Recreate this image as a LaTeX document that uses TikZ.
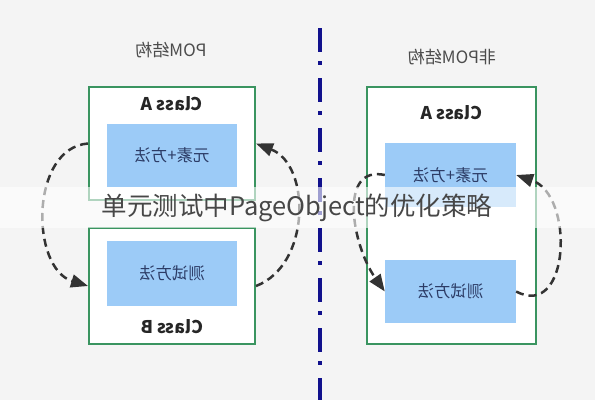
\documentclass[tikz,border=0pt]{standalone}
\usepackage{fontspec}
\setmainfont{Noto Sans CJK SC}
\usetikzlibrary{arrows.meta}
\definecolor{bgc}{HTML}{F4F4F4}
\definecolor{grn}{HTML}{3A9460}
\definecolor{blu}{HTML}{9CCBF7}
\definecolor{btxt}{HTML}{2C3C66}
\definecolor{arr}{HTML}{333333}
\definecolor{navy}{HTML}{10108C}
\newcommand{\mir}[1]{\scalebox{-1}[1]{#1}}
\tikzset{
  classbox/.style={draw=grn, line width=2pt, fill=white, inner sep=0pt},
  method/.style={fill=blu, inner sep=0pt, text=btxt, font=\fontsize{16.5}{16.5}\selectfont},
  clabel/.style={font=\bfseries\fontsize{17.5}{17.5}\selectfont, text=black!85},
  title/.style={font=\fontsize{17}{17}\selectfont, text=black!70},
  flow/.style={draw=arr, line width=2.5pt, dash pattern=on 8pt off 5pt, -{Triangle[length=17pt,width=13pt]}},
}
\begin{document}
\begin{tikzpicture}[x=1pt,y=-1pt]
\fill[bgc] (0,0) rectangle (595,400);
\useasboundingbox (0,0) rectangle (595,400);
% left side
\node[title] (t1) at (171,50) {\mir{POM结构}};
\node[classbox, minimum width=166pt, minimum height=113pt] (la) at (172,143.5) {};
\node[classbox, minimum width=166pt, minimum height=116pt] (lb) at (172,286) {};
\node[method, minimum width=130pt, minimum height=63pt] (lam) at (172,155.5) {\mir{元素+方法}};
\node[method, minimum width=130pt, minimum height=65pt] (lbm) at (172,273.5) {\mir{测试方法}};
\node[clabel] (lal) at (172,104) {\mir{Class A}};
\node[clabel] (lbl) at (172,327) {\mir{Class B}};
\draw[flow] (la.west) .. controls (30,148) and (30,268) .. (lb.west);
\draw[flow] (lb.east) .. controls (311,265) and (311,165) .. (la.east);
% divider
\coordinate (d1) at (320,28);
\coordinate (d2) at (320,400);
\draw[navy, line width=4pt, dash pattern=on 24pt off 9pt on 4pt off 13pt] (d1) -- (d2);
% right side
\node[title] (t2) at (452,57) {\mir{非POM结构}};
\node[classbox, minimum width=169pt, minimum height=257pt] (ra) at (451.5,215.5) {};
\node[clabel] (ral) at (451.5,113) {\mir{Class A}};
\node[method, minimum width=131pt, minimum height=64pt] (ram) at (450.5,175) {\mir{元素+方法}};
\node[method, minimum width=131pt, minimum height=63pt] (rbm) at (450.5,291.5) {\mir{测试方法}};
\draw[flow] (ram.west) .. controls (338,165) and (352,245) .. (rbm.west);
\draw[flow] (rbm.east) .. controls (570,320) and (575,195) .. (ram.east);
% caption band
\fill[white, opacity=0.6] (0,187) rectangle (595,228);
\node[font=\fontsize{25.5}{25.5}\selectfont, text=black!72] (cap) at (297,208) {单元测试中PageObject的优化策略};
\end{tikzpicture}
\end{document}
